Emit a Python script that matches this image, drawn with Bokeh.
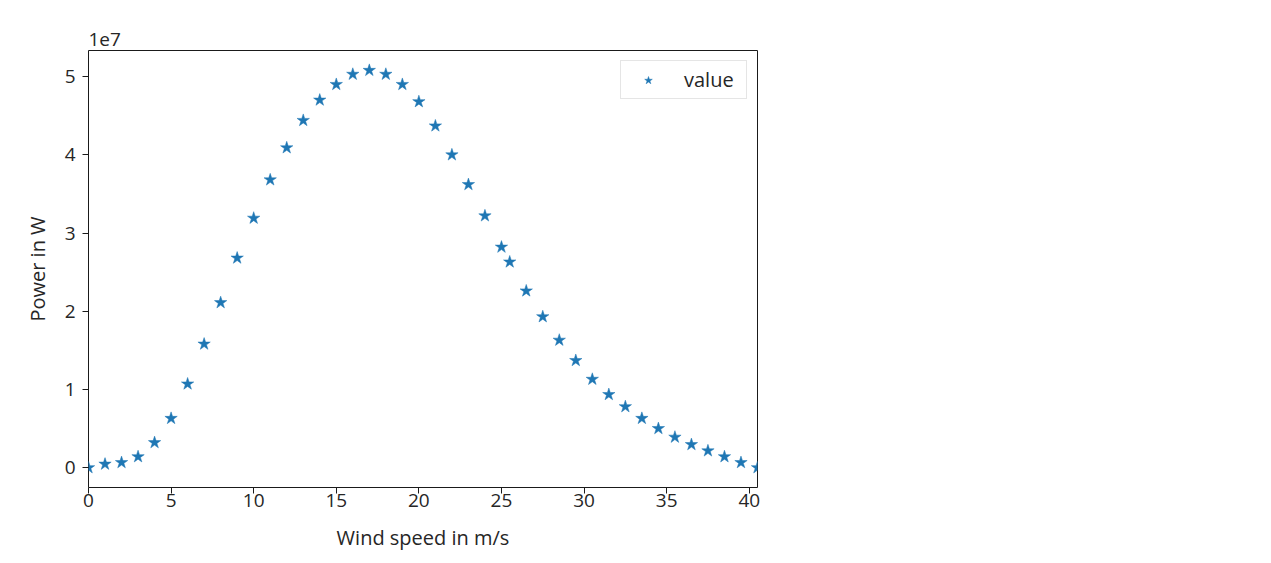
from bokeh.plotting import figure
from bokeh.models import Range1d, FixedTicker, CustomJSTickFormatter, Title, Legend, LegendItem, ColumnDataSource
from bokeh.embed import file_html
from bokeh.resources import INLINE

wind_speed = [0, 1, 2, 3, 4, 5, 6, 7, 8, 9, 10, 11, 12, 13, 14, 15, 16, 17, 18, 19, 20,
              21, 22, 23, 24, 25, 25.5, 26.5, 27.5, 28.5, 29.5, 30.5, 31.5, 32.5, 33.5,
              34.5, 35.5, 36.5, 37.5, 38.5, 39.5, 40.5]
power_w = [0.0e7, 0.045e7, 0.065e7, 0.14e7, 0.32e7, 0.63e7, 1.07e7, 1.58e7, 2.11e7, 2.68e7,
           3.19e7, 3.68e7, 4.09e7, 4.44e7, 4.70e7, 4.90e7, 5.03e7, 5.08e7, 5.03e7, 4.90e7,
           4.68e7, 4.37e7, 4.00e7, 3.62e7, 3.22e7, 2.82e7, 2.63e7, 2.26e7, 1.93e7, 1.63e7,
           1.37e7, 1.13e7, 0.935e7, 0.78e7, 0.63e7, 0.50e7, 0.39e7, 0.295e7, 0.215e7, 0.14e7,
           0.065e7, 0.0e7]
x_ticks = [0, 5, 10, 15, 20, 25, 30, 35, 40]
y_ticks = [0, 1e7, 2e7, 3e7, 4e7, 5e7]
series_name = "value"
offset_text = "1e7"

FONT = "Open Sans"
FS = "19px"
FS_LABEL = "20px"
TXT = "#262626"

ymin, ymax = min(power_w), max(power_w)
span = ymax - ymin

p = figure(width=1271, height=563, output_backend="svg", toolbar_location=None,
           x_range=Range1d(min(wind_speed), max(wind_speed)),
           y_range=Range1d(ymin - 0.05 * span, ymax + 0.05 * span),
           min_border_left=88, min_border_right=514, min_border_top=50, min_border_bottom=76)
p.background_fill_color = "white"
p.border_fill_color = "white"
p.outline_line_color = "#1a1a1a"
p.outline_line_width = 1
p.xgrid.visible = False
p.ygrid.visible = False

src = ColumnDataSource(dict(x=wind_speed, y=power_w))
r = p.scatter("x", "y", source=src, marker="star", size=13,
              fill_color="#1f77b4", line_color="#1f77b4", line_width=0.5)

for ax in (p.xaxis[0], p.yaxis[0]):
    ax.axis_line_color = None
    ax.major_tick_in = 0
    ax.major_tick_out = 6
    ax.major_tick_line_color = "#1a1a1a"
    ax.minor_tick_line_color = None
    ax.major_label_text_font = FONT
    ax.major_label_text_font_size = FS
    ax.major_label_text_color = TXT
    ax.axis_label_text_font = FONT
    ax.axis_label_text_font_size = FS_LABEL
    ax.axis_label_text_font_style = "normal"
    ax.axis_label_text_color = TXT

p.xaxis[0].ticker = FixedTicker(ticks=x_ticks)
p.yaxis[0].ticker = FixedTicker(ticks=y_ticks)
p.yaxis[0].formatter = CustomJSTickFormatter(code="return (tick/1e7).toFixed(0);")
p.xaxis[0].axis_label = "Wind speed in m/s"
p.yaxis[0].axis_label = "Power in W"
p.xaxis[0].axis_label_standoff = 14
p.yaxis[0].axis_label_standoff = 11
p.xaxis[0].major_label_standoff = 0
p.yaxis[0].major_label_standoff = 7

p.add_layout(Title(text=offset_text, align="left", text_font=FONT, text_font_size=FS,
                   text_font_style="normal", text_color=TXT, standoff=5, offset=0,
                   vertical_align="top"), "above")

legend = Legend(items=[LegendItem(label=series_name, renderers=[r])], location="top_right",
                label_text_font=FONT, label_text_font_size=FS_LABEL, label_text_color=TXT,
                border_line_color="#cccccc", border_line_width=1, background_fill_alpha=0.8,
                glyph_width=44, glyph_height=20, label_standoff=14, label_width=57,
                padding=5, margin=10, spacing=0)
p.add_layout(legend)

open("out.html", "w").write(file_html(p, INLINE))
